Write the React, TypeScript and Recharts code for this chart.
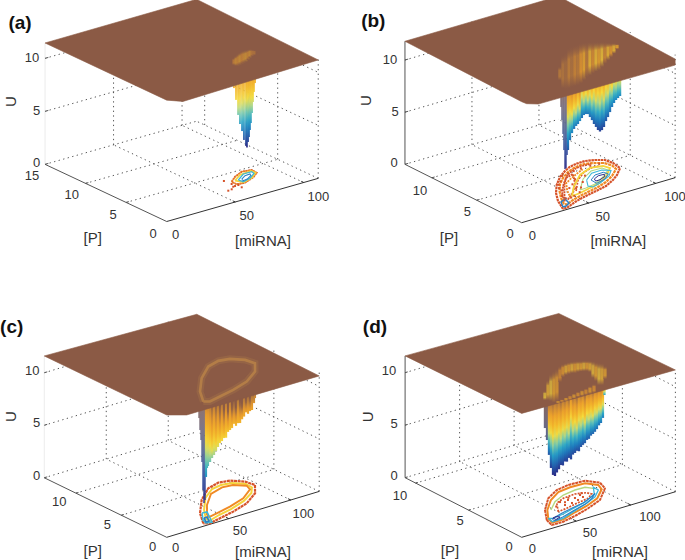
import React from 'react';
import { ScatterChart, Scatter, XAxis, YAxis, Polygon } from 'recharts';

type T3 = number[];
const BROWN = '#8b5a45';
const COLORMAP: [number, number[]][] = [
  [0, [43, 40, 133]], [0.1, [38, 84, 165]], [0.2, [29, 127, 192]], [0.3, [42, 169, 200]],
  [0.38, [108, 198, 180]], [0.46, [198, 220, 120]], [0.53, [245, 220, 60]], [0.66, [243, 181, 42]],
  [0.8, [232, 154, 44]], [0.92, [181, 122, 60]], [1, [139, 90, 69]],
];
const SPIKE_MAP: [number, number[]][] = [
  [0, [43, 40, 133]], [0.22, [45, 76, 158]], [0.45, [78, 100, 150]], [0.7, [112, 106, 128]], [1, [139, 100, 85]],
];
function cmap(t: number, map = COLORMAP, mixBrown = 0) {
  const v = Math.max(0, Math.min(1, t));
  let i = 0;
  while (i < map.length - 2 && v > map[i + 1][0]) i++;
  const [a, ca] = map[i];
  const [b, cb] = map[i + 1];
  const f = (v - a) / (b - a);
  const c = ca.map((k, j) => k + (cb[j] - k) * f).map((k, j) => Math.round(k * (1 - mixBrown) + [139, 90, 69][j] * mixBrown));
  return `rgb(${c[0]},${c[1]},${c[2]})`;
}

// ---------- Panel (a) data: [miRNA, P] and [miRNA, P, U, tone]
const aOuter: T3[] = [[68,3.48],[74.4,4.14],[82.3,4.65],[88.5,4.47],[88.1,3.78],[82.1,3.19],[73.1,2.7],[67.8,2.82]];
const aYellow: T3[] = [[70.7,3.52],[78.3,4.19],[87.2,4.33],[87.5,3.85],[81.3,3.22],[73.3,2.86]];
const aCyan: T3[] = [[72.7,3.45],[80.8,4.2],[86.8,4.19],[86.3,3.82],[79.7,3.19],[73.3,2.94]];
const aBlue: T3[] = [[75.2,3.45],[79.9,3.84],[83.8,3.89],[82.5,3.57],[77.7,3.19],[74.3,3.11]];
const aDots: T3[] = [[65.2,3.96],[65.8,3.11],[57.8,2.17],[60.7,2.24],[67.2,2.1],[65.4,2.62],[63.9,2.59],[67.9,2.63]];
const aWell: T3[] = [[70.4,3.6,8.7,0],[71.9,3.6,7.53,0],[73.4,3.6,6.06,0],[74.8,3.6,5.15,0],[76.3,3.6,4.43,0],[77.7,3.6,3.54,0],[79.2,3.6,2.92,0],[79.9,3.6,2.75,0],[80.7,3.6,3.24,0],[81.4,3.6,3.68,0],[82.1,3.6,4.32,0],[82.8,3.6,4.95,0],[83.6,3.6,5.87,0],[84.3,3.6,6.88,0],[85,3.6,7.8,0],[85.8,3.6,8.61,0]];
const aGhost: T3[] = [[70.4,3.6,11.54,10.88,.82],[71.9,3.6,11.68,10.74,.7],[73.4,3.6,11.81,10.68,.78],[74.8,3.6,11.9,10.72,.66],[76.3,3.6,11.98,10.75,.8],[77.7,3.6,11.98,10.8,.72],[79.2,3.6,11.97,10.84,.66],[80.7,3.6,11.96,10.97,.78],[82.1,3.6,11.96,11.11,.7],[83.6,3.6,11.86,11.2,.85],[85,3.6,11.75,11.26,.88]];

// ---------- Panel (b)
const bOuter: T3[] = [[32.3,.22],[37.5,1.55],[44.1,2.76],[51.9,3.85],[61,4.84],[69,5.48],[75.4,5.87],[81.7,6.03],[87.8,6.05],[93.5,5.78],[98.2,5.37],[99.1,4.62],[97.7,3.63],[89.7,2.77],[83.1,2.24],[74.2,1.68],[66.7,1.45],[59.1,1.22],[51.6,.99],[44.5,.71],[36.6,.29]];
const bOrange: T3[] = [[37.5,.89],[41.7,1.85],[47.6,2.89],[54.4,3.85],[61.5,4.58],[69.5,5.21],[76.1,5.53],[83.1,5.69],[89.2,5.48],[94.9,4.99],[96.3,4.31],[94.9,3.65],[86.4,2.84],[77.9,2.24],[69.5,1.87],[61,1.61],[53.5,1.38],[45.5,1.08],[38.4,.69]];
const bYellow: T3[] = [[48.8,1.68],[59.1,3],[72.3,4.3],[83.6,4.87],[91.6,4.61],[93,4.04],[82.6,2.95],[72.3,2.29],[62.9,2],[54.4,1.74]];
const bGreen: T3[] = [[58.2,2.19],[70,3.61],[81.2,4.4],[89.2,4.37],[90.2,3.84],[81.2,3.07],[70.9,2.41],[62.9,2.22]];
const bCyan: T3[] = [[70.7,3.32],[79.4,4.06],[87.2,4.1],[91.1,3.65],[85,2.96],[74.2,2.34],[67.1,2.07],[65.7,2.42]];
const bBlue: T3[] = [[72.8,3.14],[79.4,3.68],[85.8,3.72],[86.6,3.27],[80.3,2.71],[72.3,2.44]];
const bNavy: T3[] = [[75.3,3.15],[80.2,3.44],[84.4,3.4],[82.8,3.08],[77.3,2.81],[74,2.8]];
const bTip: T3[] = [[34.2,.5],[38,1.29],[42.7,1.55],[40.8,.82],[36.5,.51]];
const bRedA: T3[] = [[43.1,1.95],[54,3.45],[62.9,4.45],[69.9,4.73],[62.4,3.37],[52.1,2.06],[44.1,1.42]];
const bRedB: T3[] = [[55.4,2.21],[66.7,3.68],[77,4.55],[85.9,4.88],[90.2,4.73]];
const bRedC: T3[] = [[40,1.2],[48,2.4],[56,3.6],[64,4.6],[72,5.2],[80,5.5],[88,5.4]];
const bRedD: T3[] = [[46,1.4],[52,2.7],[58,3.7],[65,4.2],[72,4.6],[79,5]];
const bDots: T3[] = [[45,2.2],[50,3.3],[57,4.2],[63,4.9],[68,5],[47,1.5],[55,2.9],[60,3.3],[66,3.9],[73,5.1],[79,5.2],[86,5.2],[92,5.1],[50,1.6],[58,2.6],[42,1.5],[49,2.9],[53,3.8],[61,2.5],[67,3.2],[74,4],[56,1.9]];
const bSpike: T3[] = [[34,.8,10.4,0],[34.7,.8,9.44,0],[35.4,.8,8.17,0],[36.2,.8,6.8,0],[36.9,.8,5.23,0],[37.7,.8,3.38,0],[38.4,.8,3.45,0],[39.2,.8,4.67,0]];
const bWell: T3[] = [[39.9,.8,5.12,-.05],[41.4,.8,6.02,-.04],[42.9,.8,6.63,.02],[52.5,2,6.15,.05],[54,2,6.38,.12],[55.4,2,6.51,.02],[56.9,2,6.74,.14],[67.7,3.4,6.02,0],[69.2,3.4,6.25,.12],[70.7,3.4,6.29,.03],[72.2,3.4,6.23,.14],[73.7,3.4,5.89,.02],[75.2,3.4,5.54,.1],[76.7,3.4,5.11,0],[78.2,3.4,4.77,.08],[79.7,3.4,4.42,.02],[81.2,3.4,4.22,.06],[82.7,3.4,4.3,0],[84.2,3.4,4.54,.08],[85.7,3.4,5.05,0],[87.2,3.4,5.38,.05],[88.7,3.4,5.8,-.02],[90.2,3.4,6.23,.06],[91.7,3.4,6.56,-.03],[93.2,3.4,6.79,.03],[94.7,3.4,6.92,-.02],[96.2,3.4,7.06,.02]];
const bGhost: T3[] = [[51.3,3.4,11.6,10.26,.9],[53.6,3.4,12.59,9.42,.92],[55.8,3.4,12.8,9.26,.95],[58.1,3.4,13.1,9.26,.88],[60.3,3.4,13.2,9.28,.93],[62.5,3.4,13.21,9.3,.86],[64.8,3.4,13.22,9.29,.9],[67,3.4,13.24,9.4,.78],[69.3,3.4,13.2,9.6,.68],[71.5,3.4,13.17,9.8,.9],[73.7,3.4,13.08,9.91,.62],[76,3.4,13,10,.82],[78.2,3.4,12.91,10.09,.6],[80.4,3.4,12.83,10.14,.72],[82.7,3.4,12.75,10.35,.58],[84.9,3.4,12.66,10.59,.85],[87.2,3.4,12.52,10.84,.62],[89.4,3.4,12.4,11.05,.75],[91.6,3.4,12.31,11.3,.62],[93.9,3.4,12.13,11.65,.7]];

// ---------- Panel (c)
const cOuter: T3[] = [[32.6,.42],[41.2,1.96],[55.7,3.76],[70.9,5.11],[81.7,5.48],[89.5,5.27],[96,4.49],[97.6,3.61],[89.1,2.44],[74.7,1.39],[59.4,.79],[46,.42],[35.9,.14]];
const cMid: T3[] = [[38.3,.91],[46.6,2.25],[59.6,3.88],[72.1,4.86],[80.6,5.04],[88.2,4.86],[94.1,4.13],[93.5,3.39],[87.6,2.64],[75.7,1.84],[61,1.25],[48.9,.92],[38.8,.53]];
const cInner: T3[] = [[42.9,1.42],[53.2,2.83],[66.4,4.2],[78.8,4.67],[86.6,4.54],[92.7,3.86],[90.7,3.21],[78.1,2.24],[62.9,1.63],[49.5,1.26],[41.9,1.06]];
const cTipCyan: T3[] = [[42.5,1.91],[46,1.84],[41.4,.88],[38.2,.23],[34.2,.35],[35.8,.89]];
const cTipBlue: T3[] = [[38.4,1.13],[40.9,1.14],[37.8,.5],[35.3,.49]];
const cSpike: T3[] = [[33.4,1,9.75,0],[34.2,1,8.58,0],[35,1,7.6,0],[35.8,1,5.48,0],[36.6,1,2.78,0],[37.4,1,1.51,0],[38.2,1,1.77,0]];
const cWell: T3[] = [[39,1,3.94,-.05],[39.8,1,4.77,-.05],[40.6,1,4.93,-.03],[42.3,1,5.25,0],[43.9,1,5.57,.08],[45.5,1,5.8,0],[47.1,1,6.12,.1],[48.7,1,6.45,.02],[50.3,1,6.77,.14],[51.9,1,6.9,.03],[53.5,1,7.13,.16],[55.2,1,7.1,.02],[56.8,1,7.6,.18],[58.4,1,7.72,.02],[60,1,7.85,.16],[61.6,1,8.2,.1],[63.2,1,7.95,.2],[64.8,1,8.15,.04],[66.5,1,8.1,.14],[68.1,1,8.4,.2],[69.7,1,8.6,.04],[71.3,1,8.95,.16],[72.9,1,8.75,.06],[74.5,1,8.95,.15],[76.1,1,9,.04],[77.7,1,9.6,.08],[78.5,1,10.05,.05]];

// ---------- Panel (d)
const dOuter: T3[] = [[34.2,1.15],[44.5,2.38],[59.8,3.64],[74.1,4.31],[86.5,4.5],[101.1,4.42],[107.5,3.67],[104,2.84],[87.9,1.65],[71.6,1.09],[57.3,.7],[41.9,.38],[31.4,.4]];
const dOrange: T3[] = [[37,1.3],[45.9,2.3],[59.4,3.35],[72.7,4.02],[84.9,4.17],[98.1,4.12],[103.9,3.46],[101,2.84],[88.2,1.94],[73.3,1.41],[59.4,1.08],[44.6,.66],[34.4,.65]];
const dGreen: T3[] = [[48,2.18],[59.8,3.01],[72.2,3.5],[84.7,3.68],[93.6,3.65],[97.2,3.24]];
const dCyan: T3[] = [[37,1.3],[35.5,.76],[45.7,.78],[61.2,1.27],[76.4,1.72],[88.7,2.2],[98.2,2.87],[98.4,3.36],[91.4,2.55],[76.5,1.9],[62.9,1.6],[50.6,1.28],[39.9,1.13]];
const dBlue: T3[] = [[38.2,1.1],[38.2,.79],[47.6,.97],[60.2,1.32],[74.2,1.66],[85.3,2.12],[92.6,2.6],[86.8,2.32],[75.1,1.91],[62,1.66],[50.5,1.42],[42.1,1.19]];
const dNavy: T3[] = [[40.1,1.17],[40.1,.89],[45.3,1.04],[43.6,1.24]];
const dRed: T3[] = [[50.3,1.72],[59,2.76],[68.5,3.12],[80.1,3.22],[88.4,2.96],[89.8,2.64],[83,2.26],[70.6,2.07],[59.1,1.83]];
const dDots: T3[] = [[62.3,2.79],[61.8,2.27],[75.6,2.75],[75.1,2.41],[81.4,2.59],[69.3,2.76],[68.2,2.27],[81.9,2.92],[55,2.4],[85,3.1],[72,3],[65,2.6]];
const dSpike: T3[] = [[31.2,1.2,11.02,0],[33,1.2,8.77,0],[34.9,1.2,7.57,0]];
const dWell: T3[] = [[36.7,1.2,6.1,.03],[38.5,1.2,4.8,0],[40.4,1.2,4.08,.04],[42.2,1.2,3.92,-.01],[44,1.2,4.2,.03],[45.9,1.2,4.45,0],[47.7,1.2,4.8,.06],[49.5,1.2,4.7,-.01],[51.4,1.2,5.02,.04],[53.2,1.2,4.95,-.02],[55,1.2,5.25,.05],[56.9,1.2,5.05,-.09],[58.7,1.2,5.45,.03],[60.6,1.2,5.55,0],[62.4,1.2,5.7,.07],[64.2,1.2,5.6,-.03],[66.1,1.2,5.95,.02],[67.9,1.2,6.1,-.02],[69.7,1.2,6.2,.08],[71.6,1.2,6.45,-.02],[73.4,1.2,6.5,.02],[75.2,1.2,6.75,0],[77.1,1.2,6.85,.06],[78.9,1.2,7,-.01],[80.7,1.2,7.2,.03],[82.6,1.2,7.5,0],[84.4,1.2,7.67,.04],[86.2,1.2,8.1,0],[87.6,1.2,10.24,0]];
const dGhostTop: T3[] = [[33,1.2,12.3,11.44,.55],[35.8,1.2,13.26,11.35,.62],[38.5,1.2,13.75,11.18,.55],[41.3,1.2,13.95,10.95,.66],[44,1.2,14.1,11,.72],[46.8,1.2,14.26,12.73,.82],[49.5,1.2,14.36,13.12,.75],[52.3,1.2,14.37,13.23,.62],[55,1.2,14.38,13.24,.7],[57.8,1.2,14.34,13.25,.6],[60.6,1.2,14.3,13.16,.72],[63.3,1.2,14.23,13.18,.62],[66.1,1.2,14.14,13.14,.68],[68.8,1.2,14.09,13.1,.6],[71.6,1.2,14,13.02,.7],[74.3,1.2,13.9,12.84,.62],[77.1,1.2,13.79,12.19,.58],[79.8,1.2,13.62,11.81,.66],[82.6,1.2,13.47,11.34,.56],[85.3,1.2,13.35,11.26,.62],[88.1,1.2,12.98,11.74,.68]];
const dGhostLow: T3[] = [[45,1.2,10.98,10.79,.7],[48.6,1.2,11.03,10.77,.8],[52.3,1.2,11.1,10.75,.72],[56,1.2,11.18,10.73,.8],[59.6,1.2,11.24,10.76,.72],[63.3,1.2,11.3,10.8,.78],[67,1.2,11.35,10.78,.72],[70.6,1.2,11.4,10.76,.8],[74.3,1.2,11.5,10.74,.72],[78,1.2,11.58,10.72,.78]];

const uTicks = [0, 5, 10];
const mTicks = [50, 100];

type Loop = { pts: T3[]; color: string; w: number; dash?: string; open?: boolean };
type TL = [number, number, string];
type Cfg = {
  id: string; box: number[]; o: number[]; mv: number[]; pv: number[]; k: number; mMax: number; pMax: number;
  pTicks: number[]; pWall: number[]; plate: T3[]; leftWall: string; uMaxWall: number; low: number; blend: number;
  loops: Loop[]; dots: T3[]; spike: T3[]; well: T3[]; spikeW: number; wellW: number;
  ghosts: T3[][]; ghostW: number; ghostMix: number; ring?: T3[];
  letter: [number, number, string]; uT: TL[]; pT: TL[]; mT: TL[]; uTitle: number[]; pTitle: number[]; mTitle: number[];
};

const RED = '#d6532a', ORANGE = '#f08a24', YELLOW = '#f5d43c', GREEN = '#b4d880', CYAN = '#3cb8d8', BLUE = '#2a7fc4', NAVY = '#35308f';

const panels: Cfg[] = [
  {
    id: 'a', box: [0, 0, 343, 280], o: [166.7, 221.5], mv: [1.37, -0.39], pv: [-8.11, -3.81], k: 10.6, mMax: 110.6, pMax: 15,
    pTicks: [5, 10], pWall: [5, 14], leftWall: '#ececec', uMaxWall: 11.45, low: 2.75, blend: 0,
    plate: [[0,15,11.45],[110.6,15,11.5],[110.6,0,11.17],[11.9,0,10.89],[0,0,11.45]],
    loops: [
      { pts: aOuter, color: RED, w: 1.8, dash: '2 0.6' }, { pts: aOuter, color: ORANGE, w: 1 },
      { pts: aYellow, color: YELLOW, w: 1.8 }, { pts: aCyan, color: CYAN, w: 1.3 }, { pts: aBlue, color: BLUE, w: 1.1 },
    ],
    dots: aDots, spike: [], well: aWell, spikeW: 1, wellW: 1.7, ghosts: [aGhost], ghostW: 3, ghostMix: 0.5,
    letter: [20, 22, '(a)'],
    uT: [[32,57,'10'],[36.7,110,'5'],[36.7,162,'0']],
    pT: [[32,175.7,'15'],[71.7,194,'10'],[113,214,'5'],[153,233,'0']],
    mT: [[175.7,234.3,'0'],[246.7,215,'50'],[318.3,196.7,'100']],
    uTitle: [11, 101.7], pTitle: [92.7, 237], mTitle: [263, 240],
  },
  {
    id: 'b', box: [343, 0, 342, 280], o: [521.7, 222.7], mv: [1.34, -0.393], pv: [-8.98, -4.49], k: 10.43, mMax: 114.5, pMax: 13,
    pTicks: [5, 10], pWall: [5], leftWall: '#555', uMaxWall: 11.8, low: 3.38, blend: 0.5,
    plate: [[0,13,11.8],[114.5,13,11.8],[114.5,0,11.38],[114.5,0,10.8],[12.4,0,10.91],[3.7,0,11.27],[0,0,11.6]],
    loops: [
      { pts: bOuter, color: RED, w: 2.2, dash: '2.5 0.6' }, { pts: bOrange, color: ORANGE, w: 2.2, dash: '3 0.7' },
      { pts: bRedA, color: RED, w: 2, dash: '2 0.8' }, { pts: bRedB, color: RED, w: 1.7, dash: '2 1.2', open: true },
      { pts: bRedC, color: RED, w: 1.8, dash: '2 0.8', open: true }, { pts: bRedD, color: ORANGE, w: 1.8, dash: '2 1', open: true },
      { pts: bYellow, color: YELLOW, w: 1.8 }, { pts: bGreen, color: GREEN, w: 1.1 },
      { pts: bCyan, color: CYAN, w: 1.1 }, { pts: bBlue, color: BLUE, w: 1 }, { pts: bNavy, color: NAVY, w: 1 },
      { pts: bTip, color: BLUE, w: 1.5 },
    ],
    dots: bDots, spike: bSpike, well: bWell, spikeW: 1.4, wellW: 2.3, ghosts: [bGhost], ghostW: 3.2, ghostMix: 0.25,
    letter: [373.3, 20.7, '(b)'],
    uT: [[390,59.3,'10'],[395,111,'5'],[394,162.3,'0']],
    pT: [[420,190.7,'10'],[467.3,211.7,'5'],[510,233,'0']],
    mT: [[532.3,235,'0'],[602.7,216,'50'],[675,196.7,'100']],
    uTitle: [366, 100.7], pTitle: [449, 237], mTitle: [618.3, 240],
  },
  {
    id: 'c', box: [0, 280, 343, 280], o: [166.7, 537.3], mv: [1.24, -0.373], pv: [-9.07, -4.41], k: 10.5, mMax: 123, pMax: 13.5,
    pTicks: [5, 10], pWall: [5], leftWall: '#ececec', uMaxWall: 11.6, low: 1.51, blend: 0,
    plate: [[0,13.5,11.6],[123,13.5,11.2],[123,0,11],[16.1,0,11.08],[0,0,11.65]],
    loops: [
      { pts: cOuter, color: RED, w: 2.2, dash: '3 0.6' }, { pts: cMid, color: YELLOW, w: 2 },
      { pts: cInner, color: ORANGE, w: 1.9 }, { pts: cTipCyan, color: CYAN, w: 1.6 }, { pts: cTipBlue, color: BLUE, w: 1.7 },
    ],
    dots: [], spike: cSpike, well: cWell, spikeW: 1.4, wellW: 2.2, ghosts: [], ghostW: 3, ghostMix: 0.2, ring: cOuter,
    letter: [11.7, 326, '(c)'],
    uT: [[32.3,370,'10'],[36.7,422.7,'5'],[36.7,475,'0']],
    pT: [[59.3,501.7,'10'],[107.3,524.3,'5'],[152.7,546.7,'0']],
    mT: [[175.7,547.7,'0'],[240,530.7,'50'],[303.3,513.3,'100']],
    uTitle: [11, 416.7], pTitle: [92.7, 550], mTitle: [263, 551],
  },
  {
    id: 'd', box: [343, 280, 342, 280], o: [521.7, 537.3], mv: [1.09, -0.323], pv: [-10.6, -5.42], k: 10.5, mMax: 141, pMax: 11,
    pTicks: [5, 10], pWall: [5], leftWall: '#555', uMaxWall: 11.6, low: 3.92, blend: 0.65,
    plate: [[0,11,11.6],[141,11,11.3],[141,0,11.6],[0,0,11.8]],
    loops: [
      { pts: dOuter, color: RED, w: 2, dash: '3 0.6' }, { pts: dOrange, color: ORANGE, w: 2 },
      { pts: dGreen, color: GREEN, w: 1.4, open: true }, { pts: dRed, color: RED, w: 1.7, dash: '2 1.2' },
      { pts: dCyan, color: CYAN, w: 1.3 }, { pts: dBlue, color: BLUE, w: 1.1 }, { pts: dNavy, color: NAVY, w: 1 },
    ],
    dots: dDots, spike: dSpike, well: dWell, spikeW: 2.3, wellW: 2.3, ghosts: [dGhostTop, dGhostLow], ghostW: 3.2, ghostMix: 0.35,
    letter: [375, 326.7, '(d)'],
    uT: [[389,370.7,'10'],[394,423.3,'5'],[394,475.7,'0']],
    pT: [[400,495,'10'],[460,520,'5'],[509,546.7,'0']],
    mT: [[532.3,548.3,'0'],[590,532.7,'50'],[650,516,'100']],
    uTitle: [367.7, 416.7], pTitle: [450, 550], mTitle: [620, 551],
  },
];

const hidden = () => <g />;
const FONT = '"Liberation Sans", Arial, sans-serif';

function stripShape(props: any) {
  const { cx, cy, payload: p } = props;
  if (cx == null || cy == null) return <g />;
  const gid = `g-${p.id}`;
  return (
    <g>
      <defs>
        <linearGradient id={gid} x1="0" y1="1" x2="0" y2="0">
          {p.stops.map((s: any, i: number) => <stop key={i} offset={s[0]} stopColor={s[1]} stopOpacity={s[2] ?? 1} />)}
        </linearGradient>
      </defs>
      <rect x={cx - p.w / 2} y={cy + (p.top - p.y)} width={p.w} height={Math.max(0.5, p.y - p.top)} fill={`url(#${gid})`} />
    </g>
  );
}
function textShape(props: any) {
  const { cx, cy, payload: p } = props;
  return (
    <text x={cx} y={cy} textAnchor="middle" dominantBaseline="central" fontFamily={FONT} fontSize={p.size}
      fontWeight={p.bold ? 700 : 400} fill={p.color} transform={p.rot ? `rotate(-90 ${cx} ${cy})` : undefined}>{p.label}</text>
  );
}
function dotShape(props: any) {
  const { cx, cy } = props;
  return <rect x={cx - 1} y={cy - 1} width={2} height={2} fill="#d6532a" />;
}

function Panel({ c }: { c: Cfg }) {
  const [x0, y0, w, h] = c.box;
  const P = (m: number, p: number, u = 0) => ({
    x: c.o[0] + m * c.mv[0] + p * c.pv[0],
    y: c.o[1] + m * c.mv[1] + p * c.pv[1] - u * c.k,
  });
  let key = 0;
  const line = (pts: { x: number; y: number }[], stroke: string, sw: number, dash?: string, op = 1) => (
    <Scatter key={key++} data={pts} shape={hidden} isAnimationActive={false}
      line={{ stroke, strokeWidth: sw, strokeDasharray: dash, strokeOpacity: op }} />
  );
  const DOT = '1.3 3.4', DC = '#555';
  const grid: React.ReactNode[] = [];
  // floor
  [...c.pTicks, c.pMax].forEach(p => grid.push(line([P(0, p), P(c.mMax, p)], DC, 1, DOT)));
  [...mTicks, c.mMax].forEach(m => grid.push(line([P(m, 0), P(m, c.pMax)], DC, 1, DOT)));
  // walls
  uTicks.filter(u => u > 0).forEach(u => {
    grid.push(line([P(0, c.pMax, u), P(c.mMax, c.pMax, u)], DC, 1, DOT));
    grid.push(line([P(c.mMax, c.pMax, u), P(c.mMax, 0, u)], DC, 1, DOT));
  });
  mTicks.forEach(m => grid.push(line([P(m, c.pMax), P(m, c.pMax, c.uMaxWall)], DC, 1, DOT)));
  c.pWall.forEach(p => grid.push(line([P(c.mMax, p), P(c.mMax, p, c.uMaxWall)], DC, 1, DOT)));
  grid.push(line([P(c.mMax, 0), P(c.mMax, 0, c.uMaxWall)], DC, 1, DOT));
  grid.push(line([P(0, c.pMax), P(0, c.pMax, c.uMaxWall)], c.leftWall, 1));
  // axes and ticks
  grid.push(line([P(0, 0), P(0, c.pMax)], '#555', 1));
  grid.push(line([P(0, 0), P(c.mMax, 0)], '#333', 1));
  mTicks.forEach(m => grid.push(line([P(m, 0), P(m, 0.3)], '#333', 1)));
  c.pTicks.forEach(p => grid.push(line([P(0, p), P(2, p)], '#555', 1)));
  uTicks.forEach(u => grid.push(line([P(0, c.pMax, u), P(2.4, c.pMax, u)], '#555', 1)));

  const contours = c.loops.map(l => {
    const pts = l.pts.map(q => P(q[0], q[1]));
    return line(l.open ? pts : [...pts, pts[0]], l.color, l.w, l.dash);
  });

  const TOP = 11.5;
  const strips = (rows: T3[], width: number, prefix: string, spike: boolean) => rows.map((r, i) => {
    const [m, p, L, tone] = r;
    const base = P(m, p, L);
    const stops: any[] = [];
    for (let s = 0; s <= 8; s++) {
      const f = s / 8;
      const u = L + f * (TOP - L);
      const tU = (u - c.low) / (TOP - c.low);
      const t = spike ? tU : tU * (1 - c.blend) + f * c.blend + tone * Math.min(1, f * 2.2);
      stops.push([f, cmap(t, spike ? SPIKE_MAP : COLORMAP)]);
    }
    return { x: base.x, y: base.y, top: P(m, p, TOP).y, w: width, id: `${c.id}${prefix}${i}`, stops };
  });
  const ghostRows = c.ghosts.flatMap((rows, gi) => rows.map((r, i) => {
    const [m, p, hi, lo, tone] = r;
    const col = cmap(tone, COLORMAP, c.ghostMix);
    const b = P(m, p, lo);
    return {
      x: b.x, y: b.y, top: P(m, p, hi).y, w: c.ghostW, id: `${c.id}g${gi}-${i}`,
      stops: [[0, BROWN], [0.28, col], [0.72, col, 0.9], [1, BROWN, 0.1]],
    };
  }));

  const labels = [
    ...[...c.uT, ...c.pT, ...c.mT].map(t => ({ x: t[0], y: t[1], label: t[2], size: 13, color: '#333' })),
    { x: c.uTitle[0], y: c.uTitle[1], label: 'U', size: 15, color: '#333', rot: true },
    { x: c.pTitle[0], y: c.pTitle[1], label: '[P]', size: 15, color: '#333' },
    { x: c.mTitle[0], y: c.mTitle[1], label: '[miRNA]', size: 15, color: '#333' },
    { x: c.letter[0], y: c.letter[1], label: c.letter[2], size: 19, bold: true, color: '#111' },
  ];
  const platePts = c.plate.map(q => P(q[0], q[1], q[2]));
  const ringPts = c.ring ? c.ring.map(q => P(q[0], q[1], 11.6)) : [];

  return (
    <div style={{ position: 'absolute', left: x0, top: y0 }}>
      <ScatterChart width={w} height={h} margin={{ top: 0, right: 0, bottom: 0, left: 0 }}>
        <XAxis type="number" dataKey="x" domain={[x0, x0 + w]} allowDataOverflow hide />
        <YAxis type="number" dataKey="y" domain={[y0, y0 + h]} allowDataOverflow reversed hide />
        {grid}
        {contours}
        {c.dots.length > 0 && <Scatter data={c.dots.map(q => P(q[0], q[1]))} shape={dotShape} isAnimationActive={false} />}
        <Scatter data={strips(c.spike, c.spikeW, 's', true)} shape={stripShape} isAnimationActive={false} />
        <Scatter data={strips(c.well, c.wellW, 'w', false)} shape={stripShape} isAnimationActive={false} />
        <Scatter data={platePts} shape={hidden} isAnimationActive={false}
          line={(lp: any) => <Polygon points={lp.points} fill={BROWN} stroke={BROWN} strokeWidth={0.6} />} />
        {c.ring && line([...ringPts, ringPts[0]], '#9c6a48', 7, undefined, 0.6)}
        {c.ring && line([...ringPts, ringPts[0]], '#bd8648', 2.6, undefined, 0.75)}
        {ghostRows.length > 0 && <Scatter data={ghostRows} shape={stripShape} isAnimationActive={false} />}
        <Scatter data={labels} shape={textShape} isAnimationActive={false} />
      </ScatterChart>
    </div>
  );
}

export default function App() {
  return (
    <div style={{ position: 'absolute', left: 0, top: 0, width: 685, height: 560, background: '#fff', overflow: 'hidden' }}>
      {panels.map(c => <Panel key={c.id} c={c} />)}
    </div>
  );
}
